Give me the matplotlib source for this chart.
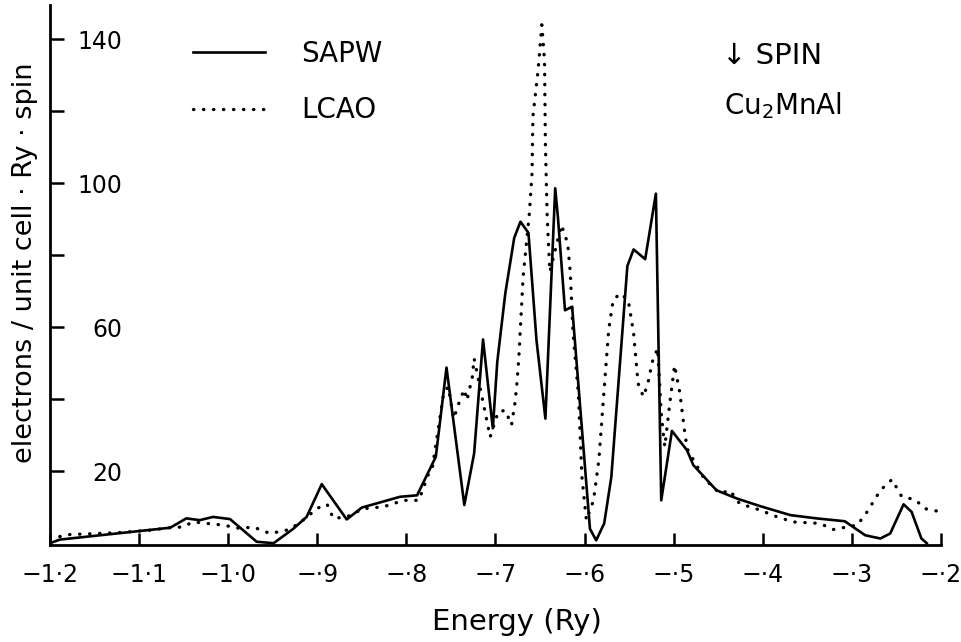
import matplotlib
matplotlib.use("Agg")
import matplotlib.pyplot as plt

# density of states, spin down, Cu2MnAl
sapw_e = [-1.200, -1.189, -1.065, -1.047, -1.032, -1.017, -0.998, -0.968, -0.949,
          -0.927, -0.912, -0.895, -0.867, -0.850, -0.807, -0.788, -0.767, -0.755,
          -0.735, -0.724, -0.714, -0.703, -0.698, -0.689, -0.679, -0.672, -0.663,
          -0.654, -0.644, -0.633, -0.630, -0.622, -0.614, -0.594, -0.587, -0.578,
          -0.570, -0.552, -0.545, -0.532, -0.520, -0.514, -0.502, -0.485, -0.478,
          -0.452, -0.429, -0.403, -0.369, -0.340, -0.308, -0.285, -0.268, -0.257,
          -0.242, -0.233, -0.222, -0.216]
sapw_dos = [0.0, 1.0, 4.3, 6.9, 6.4, 7.3, 6.7, 0.4, 0.0,
            4.0, 7.3, 16.4, 6.6, 9.9, 12.9, 13.3, 24.0, 48.8,
            10.6, 24.9, 56.6, 31.9, 50.4, 69.4, 84.8, 89.3, 86.2,
            56.4, 34.6, 98.6, 90.7, 64.7, 65.7, 4.0, 0.8, 5.5,
            18.4, 77.0, 81.6, 78.9, 97.1, 11.9, 31.2, 25.8, 21.7,
            14.7, 12.4, 10.3, 7.8, 6.9, 6.1, 2.2, 1.3, 2.7,
            10.8, 8.7, 1.3, 0.0]

lcao_e = [-1.200, -1.178, -1.125, -1.088, -1.065, -1.052, -1.039, -1.024, -1.005,
          -0.987, -0.972, -0.953, -0.931, -0.912, -0.901, -0.889, -0.882, -0.867,
          -0.848, -0.826, -0.803, -0.786, -0.775, -0.771, -0.758, -0.753, -0.747,
          -0.740, -0.735, -0.732, -0.726, -0.724, -0.719, -0.706, -0.697, -0.689,
          -0.682, -0.678, -0.676, -0.674, -0.669, -0.662, -0.659, -0.658, -0.652,
          -0.648, -0.645, -0.644, -0.642, -0.639, -0.633, -0.626, -0.619, -0.616,
          -0.613, -0.607, -0.603, -0.598, -0.590, -0.584, -0.579, -0.573, -0.568,
          -0.560, -0.551, -0.545, -0.540, -0.534, -0.529, -0.524, -0.518, -0.514,
          -0.510, -0.504, -0.499, -0.493, -0.487, -0.484, -0.466, -0.448, -0.437,
          -0.426, -0.403, -0.386, -0.366, -0.336, -0.321, -0.306, -0.294, -0.283,
          -0.268, -0.255, -0.244, -0.229, -0.218, -0.200]
lcao_dos = [1.3, 2.4, 2.9, 3.6, 4.3, 4.5, 5.9, 5.5, 5.0,
            4.1, 4.5, 2.7, 3.8, 7.1, 9.6, 10.8, 6.9, 7.3,
            9.6, 10.1, 11.9, 11.9, 19.4, 20.7, 42.0, 43.4, 34.6,
            39.7, 42.7, 39.7, 46.2, 51.3, 45.3, 29.5, 36.5, 36.9,
            32.8, 39.2, 44.4, 50.8, 74.0, 91.6, 102.8, 118.5, 131.9,
            144.0, 134.2, 111.0, 90.7, 75.4, 81.4, 88.4, 83.3, 75.0,
            58.3, 41.6, 18.4, 6.4, 11.9, 23.1, 39.7, 59.2, 67.5,
            69.4, 67.5, 58.3, 44.4, 40.7, 44.4, 50.4, 54.1, 36.0,
            26.8, 39.7, 49.4, 41.6, 29.5, 25.8, 18.0, 13.8, 14.7,
            11.0, 9.2, 7.5, 5.9, 5.5, 3.8, 4.5, 5.0, 8.7,
            14.7, 17.7, 12.9, 12.1, 9.6, 8.7]

x_ticks = [-1.2, -1.1, -1.0, -0.9, -0.8, -0.7, -0.6, -0.5, -0.4, -0.3, -0.2]
x_labels = ["−1·2", "−1·1", "−1·0", "−·9", "−·8", "−·7", "−·6", "−·5", "−·4", "−·3", "−·2"]
y_ticks = [20, 40, 60, 80, 100, 120, 140]
y_labels = ["20", "", "60", "", "100", "", "140"]

W, H = 962, 642
fig = plt.figure(figsize=(W / 100, H / 100), dpi=100)
ax = fig.add_axes([50 / W, 1 - 545 / H, 891 / W, 540 / H])

ax.plot(sapw_e, sapw_dos, color="black", lw=1.9, label="SAPW")
ax.plot(lcao_e, lcao_dos, color="black", lw=2.4, linestyle=(0, (0.1, 2.9)),
        dash_capstyle="round", label="LCAO")

ax.set_xlim(-1.2, -0.2)
ax.set_ylim(-0.5, 149.5)

for side in ["top", "right"]:
    ax.spines[side].set_visible(False)
for side in ["left", "bottom"]:
    ax.spines[side].set_linewidth(2.0)

ax.set_xticks(x_ticks)
ax.set_xticklabels(x_labels, fontsize=17)
ax.set_yticks(y_ticks)
ax.set_yticklabels(y_labels, fontsize=17)
ax.tick_params(axis="x", direction="in", length=9, width=1.8, pad=13)
ax.tick_params(axis="y", direction="in", length=10, width=1.8, pad=-52)

ax.set_xlabel("Energy (Ry)", fontsize=21, va="center")
ax.xaxis.set_label_coords((517 - 50) / 891, -(622 - 545) / 540)
ax.set_ylabel("electrons / unit cell · Ry · spin", fontsize=19.5, va="center")
ax.yaxis.set_label_coords(-25 / 891, (545 - 263) / 540)

ax.legend(loc="upper left", bbox_to_anchor=(193 / W, 1 - 40 / H),
          bbox_transform=fig.transFigure, frameon=False, fontsize=20,
          handlelength=2.6, handletextpad=1.3, labelspacing=1.02, borderpad=0,
          borderaxespad=0)

ax.text(722 / W, 1 - 56 / H, "↓ SPIN", transform=fig.transFigure,
        fontsize=21, va="center", ha="left")
ax.text(724 / W, 1 - 106 / H, "Cu$_2$MnAl", transform=fig.transFigure,
        fontsize=20, va="center", ha="left")

fig.savefig("out.png", dpi=100)
